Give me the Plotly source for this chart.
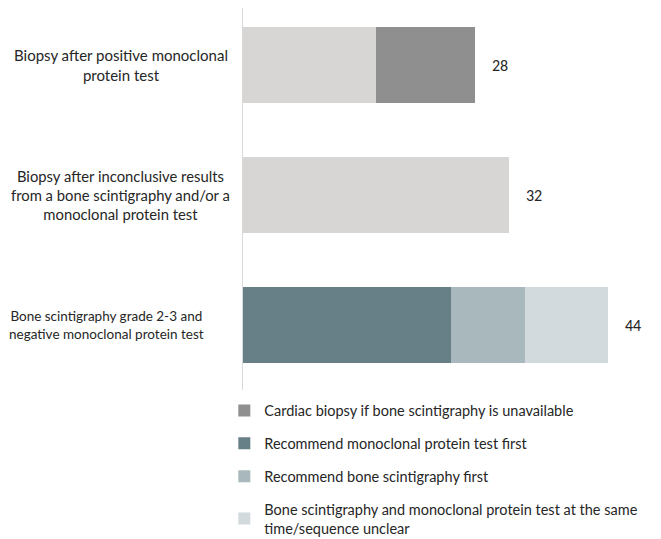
"""
Horizontal stacked bar chart of recommended diagnostic pathways.
"""

import plotly.graph_objects as go

categories = [
    'Biopsy after positive monoclonal<br>protein test',
    'Biopsy after inconclusive results<br>from a bone scintigraphy and/or a'
    '<br>monoclonal protein test',
    'Bone scintigraphy grade 2-3 and<br>negative monoclonal protein test',
]
base_values = [16, 32, 0]
cardiac_biopsy = [12, 0, 0]
monoclonal_first = [0, 0, 25]
scintigraphy_first = [0, 0, 9]
same_time = [0, 0, 10]
totals = [28, 32, 44]

font_family = 'Lato, Open Sans, sans-serif'
text_color = '#262626'

series = [
    ('base', base_values, '#D7D6D5', False, 5),
    ('Recommend monoclonal protein test first', monoclonal_first,
     '#677F86', True, 2),
    ('Recommend bone scintigraphy first', scintigraphy_first,
     '#A8B8BC', True, 3),
    ('Bone scintigraphy and monoclonal protein test at the same'
     '<br>time/sequence unclear', same_time, '#D3DADD', True, 4),
    ('Cardiac biopsy if bone scintigraphy is unavailable', cardiac_biopsy,
     '#8F8F8F', True, 1),
]

fig = go.Figure()
for name, values, color, show, rank in series:
    fig.add_trace(go.Bar(
        y=categories,
        x=values,
        name=name,
        orientation='h',
        marker={'color': color, 'line': {'width': 0}},
        showlegend=show,
        legendrank=rank,
        legendgroup=name,
        hoverinfo='skip',
    ))

# totals at the end of each bar
for cat, total in zip(categories, totals):
    fig.add_annotation(
        x=total, y=cat, text=str(total), showarrow=False,
        xanchor='left', xshift=15,
        font={'family': 'Carlito, Liberation Sans, sans-serif', 'size': 16,
              'color': text_color},
    )

# category labels, lines centred like the original
label_centres = [121, 120, 106]
label_sizes = [15, 14.8, 13.5]
for cat, centre, size in zip(categories, label_centres, label_sizes):
    fig.add_annotation(
        xref='paper', x=0, y=cat, text=cat, showarrow=False,
        xanchor='center', xshift=centre - 243, align='center',
        font={'family': font_family, 'size': size, 'color': text_color},
    )

# page body adds an 8px offset, so the figure is sized to compensate
fig.update_layout(
    {'plot_bgcolor': '#FFFFFF', 'paper_bgcolor': '#FFFFFF'},
    width=653,
    height=531,
    margin={'l': 235, 'r': 3, 't': 0, 'b': 149, 'autoexpand': False},
    barmode='stack',
    bargap=0.42,
    font={'family': font_family, 'size': 15, 'color': text_color},
    legend={
        'x': -0.045, 'xanchor': 'left',
        'yref': 'container', 'y': 0.272, 'yanchor': 'top',
        'traceorder': 'grouped', 'tracegroupgap': 11,
        'font': {'size': 14.5, 'color': text_color},
        'itemwidth': 30,
    },
)
fig.update_xaxes(range=[0, 50], visible=False)
fig.update_yaxes(
    range=[2.5, -0.4385], showticklabels=False, showgrid=False,
    showline=True, linecolor='#D9D9D9', linewidth=1, ticks='',
)

fig.write_html("out.html")
